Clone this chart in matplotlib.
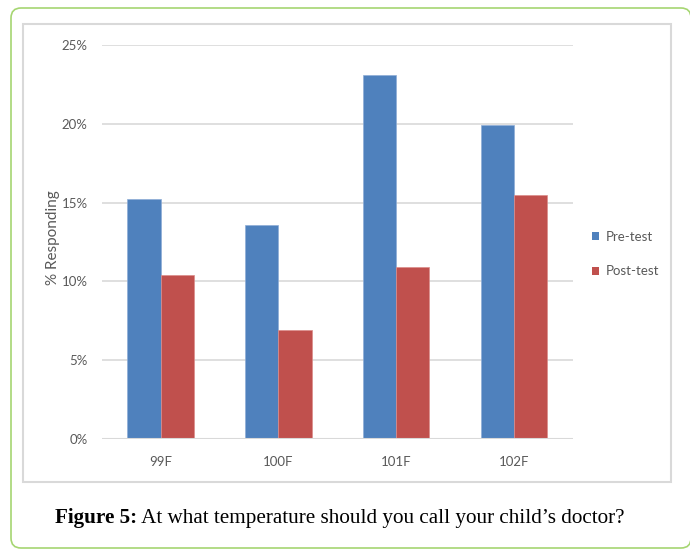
import matplotlib
matplotlib.use("Agg")
import matplotlib.pyplot as plt
import numpy as np
from matplotlib.patches import FancyBboxPatch, Rectangle
from matplotlib.transforms import IdentityTransform
from matplotlib.patches import Patch

categories = ["99F", "100F", "101F", "102F"]
pre_test = [15.2, 13.6, 23.1, 19.9]
post_test = [10.4, 6.9, 10.9, 15.5]
series_names = ["Pre-test", "Post-test"]
y_ticks = [0, 5, 10, 15, 20, 25]
y_tick_labels = ["0%", "5%", "10%", "15%", "20%", "25%"]
caption_bold = "Figure 5:"
caption_rest = " At what temperature should you call your child\u2019s doctor?"

blue = "#4F81BD"
red = "#C0504D"
gray_text = "#595959"
grid_color = "#D9D9D9"

fig = plt.figure(figsize=(6.9, 5.5), dpi=100)
W, H = 690, 550

# outer green rounded border
fig.patches.append(FancyBboxPatch((11, 2), 680, 540, boxstyle="round,pad=0,rounding_size=10",
                                  transform=IdentityTransform(), fill=False,
                                  edgecolor="#A6D672", linewidth=1.2, figure=fig))
# inner chart border
fig.patches.append(Rectangle((23, 68), 648, 458, transform=IdentityTransform(), fill=False,
                             edgecolor=grid_color, linewidth=1.5, figure=fig))

ax = fig.add_axes([101.7 / W, 111 / H, 471 / W, 394 / H])
x = np.arange(len(categories))
w = 0.283
ax.bar(x - w / 2, pre_test, w, color=blue, edgecolor="#8EADD6", linewidth=0.5, label=series_names[0], zorder=3)
ax.bar(x + w / 2, post_test, w, color=red, edgecolor="#DB8C8A", linewidth=0.5, label=series_names[1], zorder=3)

ax.set_xlim(-0.5, len(categories) - 0.5)
ax.set_ylim(0, 25)
ax.set_yticks(y_ticks)
ax.set_yticklabels(y_tick_labels)
ax.set_xticks(x)
ax.set_xticklabels(categories)
for s in ax.spines.values():
    s.set_visible(False)
ax.grid(axis="y", color=grid_color, linewidth=1.2, zorder=0)
ax.set_axisbelow(True)
ax.axhline(0, color=grid_color, linewidth=1.5, zorder=4)
ax.tick_params(axis="both", length=0, labelcolor=gray_text, labelsize=9.5)
ax.tick_params(axis="y", pad=10)
ax.tick_params(axis="x", pad=12)
for t in ax.get_xticklabels() + ax.get_yticklabels():
    t.set_fontfamily("Lato")

fig.text(53 / W, (H - 238) / H, "% Responding", rotation=90, ha="center", va="center",
         fontsize=11, color=gray_text, family="Lato")

handles = [Patch(facecolor=blue, edgecolor="none"), Patch(facecolor=red, edgecolor="none")]
leg = fig.legend(handles, series_names, loc="center left", bbox_to_anchor=(580 / W, (H - 254) / H),
                 frameon=False, handlelength=0.55, handleheight=0.55, handletextpad=0.5,
                 labelspacing=1.7, prop={"family": "Lato", "size": 9.5})
for t in leg.get_texts():
    t.set_color(gray_text)

t1 = fig.text(55 / W, (H - 523) / H, caption_bold, fontsize=15.25, fontweight="bold",
              family="Liberation Serif", va="baseline", ha="left")
ax.annotate(caption_rest, xy=(1, 0), xycoords=t1, va="bottom", ha="left",
            fontsize=15.25, family="Liberation Serif", annotation_clip=False)

fig.savefig("out.png", dpi=100)
